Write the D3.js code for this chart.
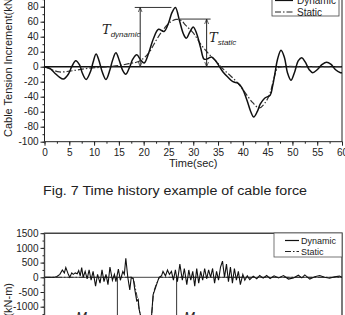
<!DOCTYPE html>
<html>
<head>
<meta charset="utf-8">
<script src="https://cdn.jsdelivr.net/npm/d3@7"></script>
<style>
  body { margin: 0; background: #fff; }
  svg { display: block; }
  text { font-family: "Liberation Sans", Arial, sans-serif; fill: #222; }
</style>
</head>
<body>
<script>
// --- top chart: cable tension increment (kN) ---
const cableDynamic = [[0,0],[1,-2],[2,-8],[3,-14],[3.8,-16.5],[4.8,-10],[5.5,0],[6.3,8],[7.1,2],[7.6,-8],
  [8.4,-17],[9.3,-6],[9.8,6],[10.4,17],[11,8],[11.6,-6],[12.4,-17],[13.2,-4],[13.7,8],[14.4,18.5],
  [15.1,8],[15.7,-4],[16.4,-10],[17.2,0],[17.8,10],[18.6,16],[19.4,9],[20.1,5],[21,18],[22,38],
  [23,50],[24.1,47],[25,58],[25.7,72],[26.4,79],[27.2,62],[28,44],[28.6,38],[29.3,46],[30,53],
  [30.7,44],[31.5,25],[32.2,10],[33,11],[33.7,13],[34.5,8],[35.3,0],[36,-7],[37,-14],[38,-20],
  [39,-22],[39.8,-28],[40.8,-44],[41.6,-60],[42.2,-67],[42.9,-60],[43.5,-50],[44.4,-42],[45.5,-38],
  [46,-26],[46.5,-8],[47,10],[47.7,22],[48.4,12],[49,-8],[49.7,-18],[50.4,-8],[51.2,8],[51.9,12],
  [52.6,6],[53.4,-4],[54.1,-8],[55,-4],[56,3],[56.9,6],[57.8,3],[58.7,-4],[59.7,-8],[60,-8]];
const cableStatic = [[0,0],[1.5,-4],[3,-7],[5,-6],[7,-4],[9,-2],[11,-1],[13,0],[15,1.5],[17,4],
  [18.5,6],[19.5,9],[21,18],[22.5,35],[24,50],[25.5,60],[26.5,63],[27.5,62],[28.5,55],[30,45],
  [31.5,30],[33,18],[34.5,8],[36,-3],[37.5,-12],[39,-22],[40.5,-35],[42,-48],[43.3,-55],[44.5,-48],
  [45.5,-35],[46.3,-15],[47,-2],[48,0],[52,0],[56,0],[60,0]];
const timeTicks = [0,5,10,15,20,25,30,35,40,45,50,55,60];
const cableTicks = [-100,-80,-60,-40,-20,0,20,40,60,80];
// annotation values: [time of arrow, peak value, time where level line starts, time where it ends]
const tDynamic = [19.3, 79, 18.2, 25.6];
const tStatic = [32.7, 63.5, 27.3, 33.5];

// --- bottom chart: moment increment (kN-m) ---
const momentDynamic = [[0,0],[2,0],[2.5,30],[3.1,100],[3.6,250],[4,150],[4.3,330],[4.8,100],[5.1,0],
  [5.5,150],[5.8,100],[6.2,150],[6.6,120],[6.9,230],[7.2,50],[7.5,330],[7.8,0],[8.2,200],[8.6,-50],
  [9,250],[9.4,-100],[9.8,200],[10.3,-300],[10.7,100],[11.2,-200],[11.6,250],[12,-150],[12.4,100],
  [12.8,-250],[13.2,350],[13.7,-100],[14.1,100],[14.4,-150],[14.9,280],[15.3,-100],[15.8,200],
  [16.1,100],[16.4,650],[16.8,0],[17.2,-430],[17.5,0],[17.9,-50],[18.2,-400],[18.6,-800],[18.9,-750],
  [19.1,-1100],[19.5,-1400],[20.5,-2000],[21.2,-1700],[21.6,-1300],[21.9,-600],[22.3,-400],[22.7,-200],
  [23.1,0],[23.6,50],[23.9,200],[24.4,50],[24.8,250],[25.2,100],[25.6,200],[26,-100],[26.4,250],
  [26.8,-150],[27.3,450],[27.8,-100],[28.2,300],[28.7,-250],[29.1,250],[29.5,-100],[29.9,200],
  [30.3,-300],[30.7,300],[31.1,-200],[31.5,200],[31.9,-100],[32.3,300],[32.7,-50],[33.1,250],
  [33.5,0],[33.9,300],[34.3,-200],[34.7,200],[35.1,-100],[35.5,350],[35.9,550],[36.3,0],[36.7,450],
  [37.1,-150],[37.5,350],[37.9,-200],[38.3,300],[38.7,-100],[39.1,200],[39.5,-250],[40,100],
  [40.4,-100],[40.9,50],[41.4,-80],[42.1,40],[42.8,-50],[43.4,60],[44.1,-30],[44.8,60],[45.5,-40],
  [46.3,50],[47.2,-20],[48.2,60],[49.2,-60],[50.2,-20],[51.2,70],[51.9,-20],[52.5,80],[53.5,-60],
  [54.5,20],[55.5,60],[56.5,0],[57.5,-30],[58.5,20],[59.5,40],[60,0]];
const momentStatic = [[0,0],[17.8,0],[18,-100],[18.6,-600],[19,-1000],[19.5,-1450],[20.5,-2000],
  [21.2,-1700],[21.6,-1300],[22,-500],[22.6,-200],[23.2,0],[30,0],[45,0],[60,0]];
const momentTicks = [-1500,-1000,-500,0,500,1000,1500];
const momentMarks = [14.7, 26.65];

const W = 345, H = 315;
const svg = d3.select("body").append("svg").attr("width", W).attr("height", H);

const defs = svg.append("defs");
defs.append("marker").attr("id", "arr").attr("viewBox", "0 0 10 10")
  .attr("refX", 10).attr("refY", 5).attr("markerWidth", 5).attr("markerHeight", 5)
  .attr("orient", "auto-start-reverse")
  .append("path").attr("d", "M0,1 L10,5 L0,9").attr("fill", "none").attr("stroke", "#222").attr("stroke-width", 1.4);

const x = d3.scaleLinear().domain([0, 60]).range([44.5, 342]);
const y1 = d3.scaleLinear().domain([-100, 100]).range([141.7, -8.3]);
const y2 = d3.scaleLinear().domain([-1500, 1500]).range([321.4, 233.2]);

const dash = "6,2,1.5,2";
const plain = d => String(d);   // hyphen minus, no thousands separator

// ---------- top chart ----------
const g1 = svg.append("g");

g1.append("g").attr("transform", "translate(44.5,0)")
  .call(d3.axisLeft(y1).tickValues(d3.range(-100, 101, 10)).tickSize(2).tickFormat(""))
  .call(a => a.select(".domain").remove());
g1.append("g").attr("transform", "translate(44.5,0)")
  .call(d3.axisLeft(y1).tickValues(cableTicks).tickSize(4).tickPadding(2).tickFormat(plain))
  .call(a => a.select(".domain").remove())
  .call(a => a.selectAll("text").attr("font-size", 10).attr("font-family", "Liberation Sans"));
g1.append("g").attr("transform", "translate(0,141.7)")
  .call(d3.axisBottom(x).tickValues(d3.range(0, 60.1, 2.5)).tickSize(2).tickFormat(""))
  .call(a => a.select(".domain").remove());
g1.append("g").attr("transform", "translate(0,141.7)")
  .call(d3.axisBottom(x).tickValues(timeTicks).tickSize(4).tickPadding(3).tickFormat(plain))
  .call(a => a.select(".domain").remove())
  .call(a => a.selectAll("text").attr("font-size", 10).attr("font-family", "Liberation Sans"));
g1.selectAll(".tick line").attr("stroke", "#222");

// frame
g1.append("path")
  .attr("d", `M${x(0)},-20 V${y1(-100)} H${x(60)} V-20`)
  .attr("fill", "none").attr("stroke", "#222").attr("stroke-width", 1);

// zero line
g1.append("line").attr("x1", x(0)).attr("x2", x(60)).attr("y1", y1(0)).attr("y2", y1(0))
  .attr("stroke", "#111").attr("stroke-width", 1.6);

const line1 = d3.line().x(d => x(d[0])).y(d => y1(d[1])).curve(d3.curveCatmullRom.alpha(0.5));
g1.append("path").datum(cableStatic).attr("d", line1)
  .attr("fill", "none").attr("stroke", "#333").attr("stroke-width", 1.2).attr("stroke-dasharray", dash);
g1.append("path").datum(cableDynamic).attr("d", line1)
  .attr("fill", "none").attr("stroke", "#111").attr("stroke-width", 1.5);

// annotations
function annot(a) {
  g1.append("line").attr("x1", x(a[2])).attr("x2", x(a[3])).attr("y1", y1(a[1])).attr("y2", y1(a[1]))
    .attr("stroke", "#333").attr("stroke-width", 1);
  g1.append("line").attr("x1", x(a[0])).attr("x2", x(a[0])).attr("y1", y1(0)).attr("y2", y1(a[1]))
    .attr("stroke", "#222").attr("stroke-width", 1)
    .attr("marker-start", "url(#arr)").attr("marker-end", "url(#arr)");
}
annot(tDynamic);
annot(tStatic);

function tLabel(px, py, sub) {
  const t = g1.append("text").attr("x", px).attr("y", py);
  t.append("tspan").text("T").attr("font-family", "DejaVu Serif").attr("font-style", "italic").attr("font-size", 13);
  t.append("tspan").text(sub).attr("dy", 3).attr("font-size", 8).attr("font-style", "italic");
}
tLabel(102, 34, "dynamic");
tLabel(209, 42, "static");

// legend
g1.append("rect").attr("x", 272).attr("y", -20).attr("width", 67).attr("height", 36)
  .attr("fill", "#fff").attr("stroke", "#444").attr("stroke-width", 0.8);
g1.append("line").attr("x1", 275).attr("x2", 293).attr("y1", 0.5).attr("y2", 0.5).attr("stroke", "#111").attr("stroke-width", 1.2);
g1.append("text").attr("x", 297).attr("y", 4).attr("font-size", 10).text("Dynamic");
g1.append("line").attr("x1", 275).attr("x2", 293).attr("y1", 12).attr("y2", 12).attr("stroke", "#222")
  .attr("stroke-width", 1.1).attr("stroke-dasharray", dash);
g1.append("text").attr("x", 297).attr("y", 15.5).attr("font-size", 10).text("Static");

// axis titles
g1.append("text").attr("transform", "translate(12,137) rotate(-90)")
  .attr("font-size", 11).text("Cable Tension Increment(kN)");
g1.append("text").attr("x", (x(0) + x(60)) / 2).attr("y", 166.5).attr("text-anchor", "middle")
  .attr("font-size", 11).text("Time(sec)");

// caption
svg.append("text").attr("x", 43).attr("y", 194.5).attr("font-size", 12.5)
  .attr("font-family", "Noto Sans CJK KR").attr("textLength", 264).attr("lengthAdjust", "spacingAndGlyphs")
  .text("Fig. 7 Time history example of cable force");

// ---------- bottom chart ----------
const g2 = svg.append("g");
defs.append("clipPath").attr("id", "clip2").append("rect")
  .attr("x", x(0)).attr("y", y2(1500)).attr("width", x(60) - x(0)).attr("height", 200);

g2.append("g").attr("transform", "translate(44.5,0)")
  .call(d3.axisLeft(y2).tickValues(d3.range(-1500, 1501, 250)).tickSize(2).tickFormat(""))
  .call(a => a.select(".domain").remove());
g2.append("g").attr("transform", "translate(44.5,0)")
  .call(d3.axisLeft(y2).tickValues(momentTicks).tickSize(4).tickPadding(2).tickFormat(plain))
  .call(a => a.select(".domain").remove())
  .call(a => a.selectAll("text").attr("font-size", 10).attr("font-family", "Liberation Sans"));
g2.selectAll(".tick line").attr("stroke", "#222");

g2.append("path")
  .attr("d", `M${x(0)},340 V${y2(1500)} H${x(60)} V340`)
  .attr("fill", "none").attr("stroke", "#444").attr("stroke-width", 1.4);
g2.append("line").attr("x1", x(0)).attr("x2", x(60)).attr("y1", y2(0)).attr("y2", y2(0))
  .attr("stroke", "#444").attr("stroke-width", 1);

momentMarks.forEach(t => {
  g2.append("line").attr("x1", x(t)).attr("x2", x(t)).attr("y1", y2(0)).attr("y2", 340)
    .attr("stroke", "#333").attr("stroke-width", 1);
});

const line2 = d3.line().x(d => x(d[0])).y(d => y2(d[1]));
const lines2 = g2.append("g").attr("clip-path", "url(#clip2)");
lines2.append("path").datum(momentStatic).attr("d", line2)
  .attr("fill", "none").attr("stroke", "#333").attr("stroke-width", 1).attr("stroke-dasharray", dash);
lines2.append("path").datum(momentDynamic).attr("d", line2)
  .attr("fill", "none").attr("stroke", "#111").attr("stroke-width", 1.1);

g2.append("rect").attr("x", 274).attr("y", 233).attr("width", 68).attr("height", 24)
  .attr("fill", "#fff").attr("stroke", "#555").attr("stroke-width", 0.8);
g2.append("line").attr("x1", 285).attr("x2", 299).attr("y1", 240.5).attr("y2", 240.5).attr("stroke", "#111").attr("stroke-width", 1.2);
g2.append("text").attr("x", 301).attr("y", 244).attr("font-size", 9).text("Dynamic");
g2.append("line").attr("x1", 285).attr("x2", 299).attr("y1", 251.5).attr("y2", 251.5).attr("stroke", "#222")
  .attr("stroke-width", 1).attr("stroke-dasharray", dash);
g2.append("text").attr("x", 301).attr("y", 255).attr("font-size", 9).text("Static");

g2.append("text").attr("transform", "translate(12,283) rotate(-90)").attr("text-anchor", "end")
  .attr("font-size", 11).text("Moment Increment(kN-m)");

g2.append("text").attr("x", 76).attr("y", 321).attr("font-size", 13)
  .attr("font-family", "DejaVu Serif").attr("font-style", "italic").text("M");
g2.append("text").attr("x", 184).attr("y", 321).attr("font-size", 13)
  .attr("font-family", "DejaVu Serif").attr("font-style", "italic").text("M");
</script>
</body>
</html>
